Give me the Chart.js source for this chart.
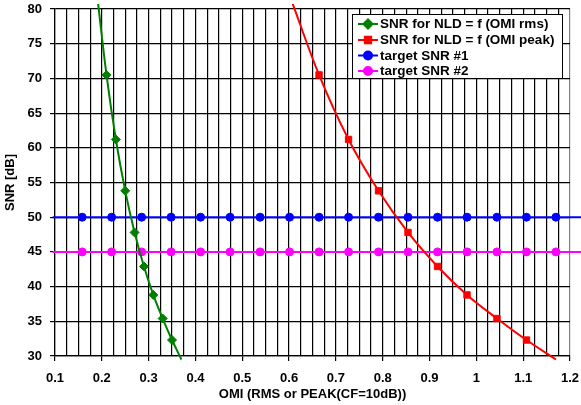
<!DOCTYPE html>
<html>
<head>
<meta charset="utf-8">
<script src="https://cdn.jsdelivr.net/npm/chart.js@4"></script>
<style>
    html, body { margin: 0; padding: 0; background: #fff; }
    #wrap { width: 581px; height: 405px; }
</style>
</head>
<body>
<div id="wrap"><canvas id="snrChart"></canvas></div>
<script>
// OMI values (rms and peak, CF = 10 dB) and SNR
const rmsOmi = [0.19, 0.21, 0.23, 0.25, 0.27, 0.29, 0.31, 0.33, 0.35, 0.37];
const peakOmi = [0.601, 0.664, 0.727, 0.791, 0.854, 0.917, 0.980, 1.044, 1.107, 1.170];
const snrValues = [82.0, 70.5, 61.2, 53.8, 47.8, 42.9, 38.8, 35.4, 32.3, 29.5];

const targetOmi = [0.095, 0.158, 0.221, 0.285, 0.348, 0.411, 0.474, 0.538, 0.601, 0.664,
    0.727, 0.791, 0.854, 0.917, 0.980, 1.044, 1.107, 1.170, 1.233];
const target1 = [50, 50, 50, 50, 50, 50, 50, 50, 50, 50, 50, 50, 50, 50, 50, 50, 50, 50, 50];
const target2 = [45, 45, 45, 45, 45, 45, 45, 45, 45, 45, 45, 45, 45, 45, 45, 45, 45, 45, 45];

const xTickLabels = ['0.1', '0.2', '0.3', '0.4', '0.5', '0.6', '0.7', '0.8', '0.9', '1', '1.1', '1.2'];
const xMin = 0.1, xMax = 1.2, yMin = 30, yMax = 80;

const FONT = '"Liberation Sans", Arial, sans-serif';

function toPoints(xs, ys) {
    return xs.map((x, i) => ({ x: x, y: ys[i] }));
}

// hide markers that fall outside the plot area
function markerSize(size) {
    return ctx => {
        const p = ctx.raw;
        if (!p || p.x < xMin || p.x > xMax || p.y < yMin || p.y > yMax) return 0;
        return size;
    };
}

const series = [
    { label: 'SNR for NLD = f (OMI rms)', data: toPoints(rmsOmi, snrValues), color: '#008000', style: 'rectRot', size: 4.5, tension: 0.35 },
    { label: 'SNR for NLD = f (OMI peak)', data: toPoints(peakOmi, snrValues), color: '#ff0000', style: 'rect', size: 4.5, tension: 0.35 },
    { label: 'target SNR #1', data: toPoints(targetOmi, target1), color: '#0000ff', style: 'circle', size: 4, tension: 0 },
    { label: 'target SNR #2', data: toPoints(targetOmi, target2), color: '#ff00ff', style: 'circle', size: 4, tension: 0 }
];

// Excel-like legend box inside the plot
const boxLegend = {
    id: 'boxLegend',
    afterDatasetsDraw(chart) {
        const c = chart.ctx;
        const x0 = 352.5, y0 = 14.5, w = 210, h = 64;
        c.save();
        c.fillStyle = '#fff';
        c.fillRect(x0, y0, w, h);
        c.strokeStyle = '#000';
        c.lineWidth = 1;
        c.strokeRect(x0, y0, w, h);
        const rows = [24, 40, 55.5, 71];
        series.forEach((s, i) => {
            const y = rows[i];
            c.strokeStyle = s.color;
            c.lineWidth = 2;
            c.beginPath();
            c.moveTo(358, y);
            c.lineTo(378, y);
            c.stroke();
            c.fillStyle = s.color;
            Chart.helpers.drawPoint(c, { pointStyle: s.style, radius: s.size, borderWidth: 1 }, 368, y);
            c.fillStyle = '#000';
            c.font = 'bold 13.5px ' + FONT;
            c.textAlign = 'left';
            c.textBaseline = 'middle';
            c.fillText(s.label, 380, y + 0.5);
        });
        c.restore();
    }
};

const ctx = document.getElementById('snrChart').getContext('2d');
const snrChart = new Chart(ctx, {
    type: 'line',
    data: {
        datasets: series.map(s => ({
            label: s.label,
            data: s.data,
            borderColor: s.color,
            backgroundColor: s.color,
            borderWidth: 2,
            pointStyle: s.style,
            pointRadius: markerSize(s.size),
            pointBorderWidth: 1,
            tension: s.tension,
            fill: false,
            clip: { left: 3, top: 5, right: 20, bottom: 4 }
        }))
    },
    options: {
        responsive: true,
        maintainAspectRatio: false,
        animation: false,
        layout: { padding: { left: 0, right: 11, top: 9, bottom: 0 } },
        plugins: {
            legend: { display: false },
            tooltip: { enabled: false }
        },
        scales: {
            x: {
                type: 'linear',
                min: xMin,
                max: xMax,
                afterFit: scale => {
                    scale.height = 49;
                    scale.paddingLeft = 0;
                    scale.paddingRight = 0;
                },
                ticks: {
                    stepSize: 0.025,
                    autoSkip: false,
                    maxRotation: 0,
                    padding: 10,
                    color: '#000',
                    font: { family: FONT, size: 13, weight: 'bold' },
                    callback: value => {
                        const k = (value - xMin) / 0.1;
                        if (Math.abs(k - Math.round(k)) > 1e-6) return '';
                        return xTickLabels[Math.round(k)];
                    }
                },
                grid: {
                    color: c => (c.tick && Math.abs(c.tick.value - xMax) < 1e-6) ? '#808080' : '#000',
                    lineWidth: 1.2,
                    tickLength: 5,
                    tickColor: c => (c.tick && c.tick.label) ? '#000' : 'rgba(0,0,0,0)'
                },
                border: { color: '#000', width: 1.2 },
                title: {
                    display: true,
                    text: 'OMI (RMS or PEAK(CF=10dB))',
                    color: '#000',
                    font: { family: FONT, size: 13, weight: 'bold' },
                    padding: { top: 2, bottom: 3 }
                }
            },
            y: {
                min: yMin,
                max: yMax,
                afterFit: scale => {
                    scale.width = 55;
                    scale.paddingTop = 0;
                    scale.paddingBottom = 0;
                },
                ticks: {
                    stepSize: 5,
                    padding: 8,
                    color: '#000',
                    font: { family: FONT, size: 13, weight: 'bold' }
                },
                grid: {
                    color: '#000',
                    lineWidth: 1.2,
                    tickLength: 5
                },
                border: { color: '#000', width: 1.2 },
                title: {
                    display: true,
                    text: 'SNR [dB]',
                    color: '#000',
                    font: { family: FONT, size: 13, weight: 'bold' },
                    padding: { top: 3, bottom: 0 }
                }
            }
        }
    },
    plugins: [boxLegend]
});
</script>
</body>
</html>
